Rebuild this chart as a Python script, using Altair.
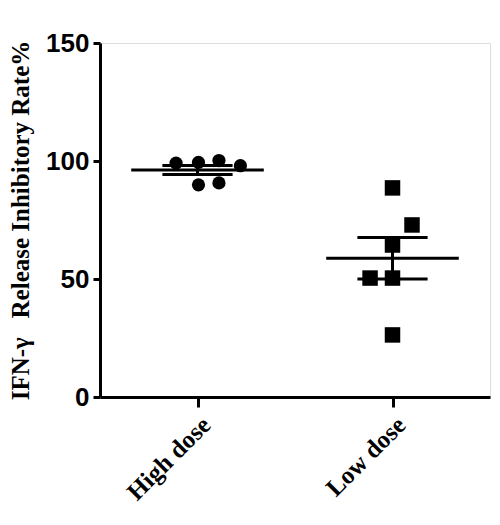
import altair as alt
import pandas as pd
import numpy as np

groups = ["High dose", "Low dose"]
high_values = [99.1, 99.4, 100.2, 98.0, 89.9, 90.7]
high_offsets = [-0.11, 0.005, 0.11, 0.22, 0.005, 0.11]
low_values = [88.6, 72.9, 64.4, 50.4, 50.4, 26.3]
low_offsets = [0.0, 0.10, 0.0, -0.115, 0.0, 0.0]

rows = []
for gi, (vals, offs) in enumerate([(high_values, high_offsets), (low_values, low_offsets)]):
    for v, o in zip(vals, offs):
        rows.append({"group": groups[gi], "x": gi + 1 + o, "value": v})
pts = pd.DataFrame(rows)

stats = []
for gi, vals in enumerate([high_values, low_values]):
    a = np.array(vals)
    m = a.mean()
    sem = a.std(ddof=1) / np.sqrt(len(a))
    c = gi + 1
    stats.append({"group": groups[gi], "c": c, "mean": m, "lo": m - sem, "hi": m + sem,
                  "mx1": c - 0.34, "mx2": c + 0.34, "sx1": c - 0.18, "sx2": c + 0.18})
st = pd.DataFrame(stats)

xscale = alt.Scale(domain=[0.5, 2.5], nice=False, zero=False)
yscale = alt.Scale(domain=[0, 150], nice=False)

xaxis = alt.Axis(values=[1, 2], labelExpr="datum.value == 1 ? 'High dose' : 'Low dose'",
                 labelAngle=-45, labelFont="Liberation Serif", labelFontWeight="bold",
                 labelFontSize=25, labelColor="black", title=None, grid=False,
                 domainColor="black", domainWidth=3, tickColor="black", tickWidth=3,
                 tickSize=10, labelPadding=5)
yaxis = alt.Axis(values=[0, 50, 100, 150], labelFont="Liberation Sans", labelFontWeight="bold",
                 labelFontSize=26, labelColor="black", grid=False,
                 domainColor="black", domainWidth=3, tickColor="black", tickWidth=3,
                 tickSize=7, labelPadding=4,
                 title="IFN-\u03b3\u00a0\u00a0\u00a0Release Inhibitory Rate%",
                 titleFont="Liberation Serif", titleFontWeight="bold", titleFontSize=25,
                 titleColor="black", titlePadding=12)

points = alt.Chart(pts).mark_point(filled=True, opacity=1, color="black").encode(
    x=alt.X("x:Q", scale=xscale, axis=xaxis),
    y=alt.Y("value:Q", scale=yscale, axis=yaxis),
    shape=alt.Shape("group:N", scale=alt.Scale(domain=groups, range=["circle", "square"]), legend=None),
    size=alt.Size("group:N", scale=alt.Scale(domain=groups, range=[175, 240]), legend=None),
)

mean_rule = alt.Chart(st).mark_rule(color="black", strokeWidth=3).encode(
    x="mx1:Q", x2="mx2:Q", y="mean:Q")
hi_rule = alt.Chart(st).mark_rule(color="black", strokeWidth=3).encode(
    x="sx1:Q", x2="sx2:Q", y="hi:Q")
lo_rule = alt.Chart(st).mark_rule(color="black", strokeWidth=3).encode(
    x="sx1:Q", x2="sx2:Q", y="lo:Q")
v_rule = alt.Chart(st).mark_rule(color="black", strokeWidth=3).encode(
    x="c:Q", y="lo:Q", y2="hi:Q")

chart = alt.layer(points, mean_rule, hi_rule, lo_rule, v_rule).properties(
    width=390, height=354,
    autosize=alt.AutoSizeParams(type="none"),
    padding={"left": 92, "top": 35, "right": 2, "bottom": 120},
).configure_view(stroke=None).configure(background="white")

chart.save("out.html", embed_options={"renderer": "svg", "actions": False})
